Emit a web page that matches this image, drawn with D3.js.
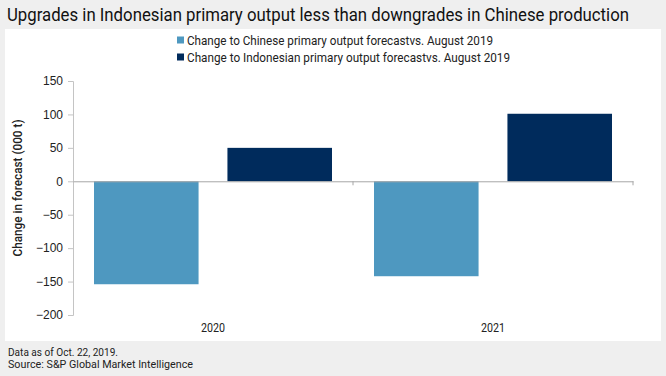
<!DOCTYPE html>
<html>
<head>
<meta charset="utf-8">
<script src="https://cdn.jsdelivr.net/npm/d3@7"></script>
<style>
	body { margin: 0; background: #efefef; }
	svg { display: block; font-family: "Roboto", sans-serif; }
</style>
</head>
<body>
<svg id="chart" width="666" height="376"></svg>
<script>
var years = ["2020", "2021"];
var series = [
	"Change to Chinese primary output forecastvs. August 2019",
	"Change to Indonesian primary output forecastvs. August 2019"
];
var chinaValues = [-154, -142];
var indonesiaValues = [50, 101];
var yTicks = [150, 100, 50, 0, -50, -100, -150, -200];
var colors = ["#4e98c0", "#002b5c"];

var svg = d3.select("#chart");

// panel
svg.append("rect")
	.attr("x", 5).attr("y", 29)
	.attr("width", 656).attr("height", 312)
	.attr("fill", "#fff");

// condensed look: squeeze text to the widths seen in the picture
function squeeze(sel, w) {
	sel.attr("textLength", w).attr("lengthAdjust", "spacingAndGlyphs");
}

svg.append("text")
	.attr("x", 7).attr("y", 21)
	.attr("font-size", 17.5)
	.attr("fill", "#111")
	.text("Upgrades in Indonesian primary output less than downgrades in Chinese production")
	.call(squeeze, 622);

var y = d3.scaleLinear()
	.domain([-200, 150])
	.range([315, 81]);

var x0 = d3.scaleBand()
	.domain(years)
	.range([73, 633]);

var x1 = d3.scaleBand()
	.domain([0, 1])
	.range([21, x0.bandwidth() - 21])
	.paddingInner(29 / 134);

// y axis
var yAxis = svg.append("g")
	.attr("transform", "translate(73,0)")
	.call(d3.axisLeft(y).tickValues(yTicks).tickSize(5).tickPadding(5));
yAxis.select(".domain").attr("stroke", "#c4c4c4");
yAxis.selectAll(".tick line").attr("stroke", "#c4c4c4");
yAxis.selectAll(".tick text")
	.attr("font-size", 12)
	.attr("fill", "#222")
	.attr("font-family", "Liberation Sans, Arial, sans-serif");

svg.append("text")
	.attr("transform", "translate(22,188) rotate(-90)")
	.attr("text-anchor", "middle")
	.attr("font-size", 12)
	.attr("font-weight", 500)
	.attr("fill", "#222")
	.text("Change in forecast (000 t)")
	.call(squeeze, 137);

// bars
var rows = years.map(function(yr, i) {
	return { year: yr, values: [chinaValues[i], indonesiaValues[i]] };
});

var groups = svg.selectAll(".group")
	.data(rows)
	.enter()
	.append("g")
	.attr("class", "group")
	.attr("transform", function(d) { return "translate(" + x0(d.year) + ",0)"; });

groups.selectAll("rect")
	.data(function(d) { return d.values.map(function(v, i) { return { i: i, v: v }; }); })
	.enter()
	.append("rect")
	.attr("x", function(d) { return x1(d.i); })
	.attr("width", x1.bandwidth())
	.attr("y", function(d) { return y(Math.max(0, d.v)); })
	.attr("height", function(d) { return Math.abs(y(d.v) - y(0)); })
	.attr("fill", function(d) { return colors[d.i]; });

// zero line with tick marks between categories
var xAxis = svg.append("g")
	.attr("transform", "translate(0," + y(0) + ")")
	.call(d3.axisBottom(x0).tickSize(0).tickFormat(""));
xAxis.select(".domain").attr("stroke", "#a6a6a6").attr("stroke-width", 1);
svg.selectAll(".sep")
	.data([x0("2021"), x0.range()[1]])
	.enter()
	.append("line")
	.attr("class", "sep")
	.attr("x1", function(d) { return d; }).attr("x2", function(d) { return d; })
	.attr("y1", y(0)).attr("y2", y(0) + 4)
	.attr("stroke", "#a6a6a6");

// year labels
svg.selectAll(".yearLabel")
	.data(years)
	.enter()
	.append("text")
	.attr("x", function(d) { return x0(d) + x0.bandwidth() / 2; })
	.attr("y", 332)
	.attr("text-anchor", "middle")
	.attr("font-size", 13)
	.attr("fill", "#222")
	.text(function(d) { return d; })
	.call(squeeze, 24);

// legend
var legendWidths = [306, 323];
var legend = svg.selectAll(".legend")
	.data(series)
	.enter()
	.append("g")
	.attr("class", "legend")
	.attr("transform", function(d, i) { return "translate(177," + (40 + i * 17) + ")"; });
legend.append("rect")
	.attr("x", 0).attr("y", -3.5)
	.attr("width", 7).attr("height", 7)
	.attr("fill", function(d, i) { return colors[i]; });
legend.append("text")
	.attr("x", 10).attr("y", 4.5)
	.attr("font-size", 13)
	.attr("fill", "#222")
	.text(function(d) { return d; })
	.attr("textLength", function(d, i) { return legendWidths[i]; })
	.attr("lengthAdjust", "spacingAndGlyphs");

// footer
svg.append("text")
	.attr("x", 8).attr("y", 356)
	.attr("font-size", 10.5)
	.attr("fill", "#222")
	.text("Data as of Oct. 22, 2019.")
	.call(squeeze, 110);
svg.append("text")
	.attr("x", 8).attr("y", 368)
	.attr("font-size", 10.5)
	.attr("fill", "#222")
	.text("Source: S&P Global Market Intelligence")
	.call(squeeze, 185);
</script>
</body>
</html>
